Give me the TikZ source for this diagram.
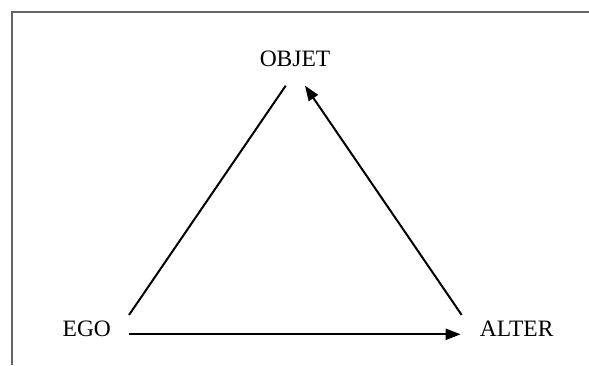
\documentclass[tikz,border=0pt]{standalone}
\usepackage{fontspec}
\setmainfont{Liberation Serif}
\usetikzlibrary{arrows.meta}
\definecolor{framegray}{HTML}{666666}
\tikzset{
  lbl/.style={font=\fontsize{23.5}{27}\selectfont, anchor=base, inner sep=0pt},
  conn/.style={line width=2pt, black},
  arr/.style={conn, -{Triangle[length=15pt,width=11pt]}},
  frame/.style={line width=2.4pt, framegray}
}
\begin{document}
\begin{tikzpicture}[x=1pt,y=1pt]
\useasboundingbox (0,0) rectangle (589,365);
\draw[frame] (589,353) -- (12,353) -- (12,0);
\node[lbl] (objet) at (295,298.3) {OBJET};
\node[lbl] (ego) at (86.8,28.3) {EGO};
\node[lbl] (alter) at (516.7,28.3) {ALTER};
\coordinate (egoUp) at (129,50);
\coordinate (objetL) at (285.7,279.3);
\coordinate (alterUp) at (461.7,50);
\coordinate (objetR) at (305,279.3);
\coordinate (egoR) at (129,30.7);
\coordinate (alterL) at (460.7,30.7);
\draw[conn] (egoUp) -- (objetL);
\draw[arr] (alterUp) -- (objetR);
\draw[arr] (egoR) -- (alterL);
\end{tikzpicture}
\end{document}
